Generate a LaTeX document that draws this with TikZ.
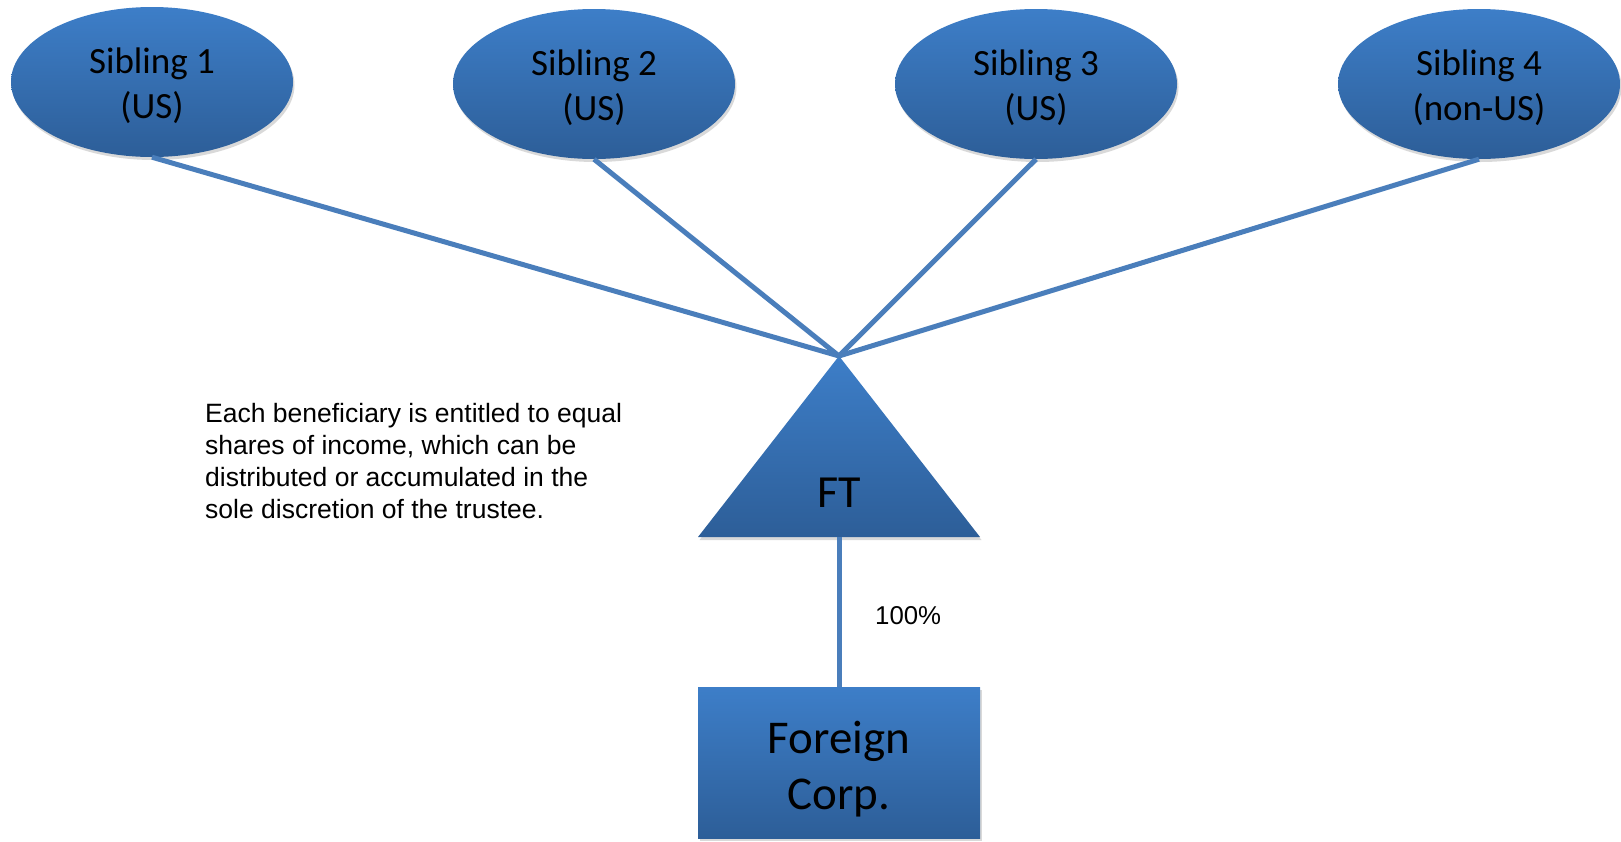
\documentclass[tikz,border=0pt]{standalone}
\usepackage{fontspec}
\setmainfont{Carlito}
\newfontfamily\arialf{Liberation Sans}
\usetikzlibrary{shapes.geometric,shadows}
\definecolor{filltop}{RGB}{61,126,200}
\definecolor{fillbot}{RGB}{45,94,152}
\definecolor{linecol}{RGB}{74,126,187}
\newcommand{\twolines}[3]{\raisebox{-#1}[\height][\depth]{\begin{tabular}{@{}c@{}}#2\\#3\end{tabular}}}
\tikzset{
  softshadow/.style={drop shadow={shadow xshift=1.5pt,shadow yshift=-3pt,opacity=0.25,fill=black!60}},
  sib/.style={ellipse,draw=none,top color=filltop,bottom color=fillbot,
    minimum width=282pt,minimum height=150pt,inner sep=0pt,align=center,
    font=\fontsize{37}{45.5}\selectfont,softshadow},
  corp/.style={rectangle,draw=none,top color=filltop,bottom color=fillbot,
    minimum width=282pt,minimum height=151pt,inner sep=0pt,align=center,
    font=\fontsize{47}{56}\selectfont,softshadow},
  tri/.style={top color=filltop,bottom color=fillbot,draw=none,softshadow},
  conn/.style={draw=linecol,line width=5pt},
  para/.style={font=\arialf\fontsize{26.5}{32}\selectfont,inner sep=0pt,align=left}
}
\begin{document}
\begin{tikzpicture}[x=1pt,y=-1pt]
\useasboundingbox (0,0) rectangle (1621,841);
% triangle
\coordinate (apex) at (839,356);
\coordinate (bl) at (698,537);
\coordinate (br) at (980,537);
\coordinate (base) at (839,537);
\shade[tri] (apex) -- (bl) -- (br) -- cycle;
\node[anchor=base,font=\fontsize{46}{53}\selectfont] (ft) at (839,507) {FT};
% siblings
\node[sib] (s1) at (152,82) {\twolines{5pt}{Sibling 1}{(US)}};
\node[sib] (s2) at (594,84) {\twolines{5pt}{Sibling 2}{(US)}};
\node[sib] (s3) at (1036,84) {\twolines{5pt}{Sibling 3}{(US)}};
\node[sib] (s4) at (1479,84) {\twolines{5pt}{Sibling 4}{(non-US)}};
% corp
\node[corp] (fc) at (839,762.5) {\twolines{8pt}{Foreign}{Corp.}};
% connectors
\draw[conn] (s1.south) -- (apex);
\draw[conn] (s2.south) -- (apex);
\draw[conn] (s3.south) -- (apex);
\draw[conn] (s4.south) -- (apex);
\draw[conn] (base) -- (fc.north);
% texts
\node[anchor=base west,font=\arialf\fontsize{25.8}{30}\selectfont,inner sep=0pt] (pct) at (875,624) {100\%};
\node[para,anchor=north west] (note) at (205,403) {Each beneficiary is entitled to equal\\shares of income, which can be\\distributed or accumulated in the\\sole discretion of the trustee.};
\end{tikzpicture}
\end{document}
